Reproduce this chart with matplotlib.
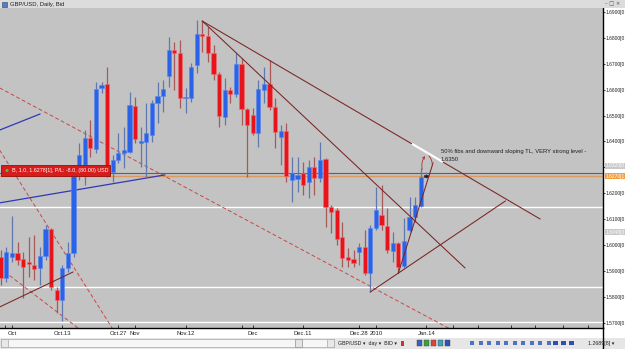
import matplotlib
matplotlib.use('Agg')
import matplotlib.pyplot as plt
import matplotlib.transforms as mtransforms
from matplotlib.patches import Rectangle, Circle

plt.rcParams['font.family'] = ['Liberation Sans', 'DejaVu Sans']

# GBP/USD daily candles, Sep 28 2009 .. Jan 14 2010
opens = [1.5954, 1.5873, 1.5954, 1.5970, 1.5946, 1.5935, 1.5923, 1.5912, 1.5958, 1.6062,
         1.5827, 1.5788, 1.5912, 1.5970, 1.6271, 1.6278, 1.6414, 1.6371, 1.6607, 1.6622,
         1.6282, 1.6329, 1.6356, 1.6359, 1.6537, 1.6394, 1.6398, 1.6425, 1.6549, 1.6576,
         1.6653, 1.6753, 1.6742, 1.6568, 1.6568, 1.6695, 1.6815, 1.6807, 1.6742, 1.6661,
         1.6495, 1.6599, 1.6583, 1.6699, 1.6525, 1.6502, 1.6433, 1.6599, 1.6622, 1.6533,
         1.6417, 1.6441, 1.6251, 1.6255, 1.6278, 1.6244, 1.6302, 1.6259, 1.6332, 1.6147,
         1.6136, 1.6031, 1.5954, 1.5946, 1.5973, 1.5993, 1.5892, 1.6066, 1.6116, 1.6074,
         1.5977, 1.6008, 1.5919, 1.6058, 1.6109, 1.6151, 1.6263]
highs = [1.5981, 1.5993, 1.6112, 1.6012, 1.5973, 1.6031, 1.6039, 1.5993, 1.6078, 1.6066,
         1.5838, 1.5923, 1.6012, 1.6290, 1.6394, 1.6444, 1.6483, 1.6630, 1.6630, 1.6688,
         1.6348, 1.6433, 1.6456, 1.6591, 1.6572, 1.6456, 1.6549, 1.6560, 1.6630, 1.6637,
         1.6803, 1.6784, 1.6792, 1.6607, 1.6703, 1.6869, 1.6865, 1.6842, 1.6773, 1.6668,
         1.6645, 1.6610, 1.6742, 1.6722, 1.6529, 1.6529, 1.6637, 1.6688, 1.6715, 1.6568,
         1.6464, 1.6471, 1.6340, 1.6340, 1.6321, 1.6329, 1.6340, 1.6398, 1.6336, 1.6155,
         1.6143, 1.6089, 1.5989, 1.5981, 1.6008, 1.6058, 1.6078, 1.6224, 1.6232, 1.6143,
         1.6051, 1.6012, 1.6105, 1.6186, 1.6186, 1.6298, 1.6282]
lows = [1.5846, 1.5858, 1.5935, 1.5923, 1.5796, 1.5877, 1.5865, 1.5846, 1.5942, 1.5827,
        1.5738, 1.5707, 1.5896, 1.5954, 1.6251, 1.6232, 1.6340, 1.6356, 1.6587, 1.6263,
        1.6244, 1.6317, 1.6298, 1.6356, 1.6394, 1.6302, 1.6263, 1.6398, 1.6471, 1.6514,
        1.6610, 1.6599, 1.6529, 1.6510, 1.6553, 1.6664, 1.6746, 1.6707, 1.6637, 1.6456,
        1.6464, 1.6549, 1.6572, 1.6464, 1.6263, 1.6425, 1.6379, 1.6549, 1.6522, 1.6375,
        1.6309, 1.6244, 1.6166, 1.6205, 1.6193, 1.6182, 1.6193, 1.6244, 1.6070, 1.6047,
        1.6000, 1.5915, 1.5915, 1.5915, 1.5923, 1.5885, 1.5819, 1.6058, 1.6058, 1.5970,
        1.5935, 1.5892, 1.5912, 1.6051, 1.6089, 1.6147, 1.6259]
closes = [1.5873, 1.5973, 1.5970, 1.5942, 1.5915, 1.5927, 1.5908, 1.5958, 1.6062, 1.5838,
          1.5788, 1.5912, 1.5970, 1.6278, 1.6348, 1.6414, 1.6375, 1.6603, 1.6618, 1.6271,
          1.6329, 1.6356, 1.6367, 1.6541, 1.6410, 1.6402, 1.6433, 1.6549, 1.6576, 1.6603,
          1.6753, 1.6742, 1.6568, 1.6572, 1.6688, 1.6815, 1.6807, 1.6742, 1.6661, 1.6498,
          1.6599, 1.6583, 1.6699, 1.6525, 1.6464, 1.6433, 1.6603, 1.6622, 1.6533, 1.6437,
          1.6441, 1.6267, 1.6278, 1.6271, 1.6232, 1.6302, 1.6259, 1.6329, 1.6147, 1.6128,
          1.6024, 1.5950, 1.5942, 1.5931, 1.5993, 1.5892, 1.6066, 1.6136, 1.6078, 1.5981,
          1.6008, 1.5915, 1.6016, 1.6109, 1.6155, 1.6263, 1.6270]

date_ticks = [2, 11, 21, 24, 33, 45, 54, 64, 67, 76]
date_labels = ['Oct', 'Oct.13', 'Oct.27', 'Nov', 'Nov.12', 'Dec', 'Dec.11', 'Dec.28', '2010', 'Jan.14']
extra_ticks = [0.8, 43.1, 80.8, 85.2, 91.1, 95.4, 100.4, 104.9]
price_ticks = [1.69, 1.68, 1.67, 1.66, 1.65, 1.64, 1.63, 1.62, 1.61, 1.60, 1.59, 1.58, 1.57]
hidden_tick = 1.63   # covered by a price box in the original

order_price = 1.6278
bid_price = 1.6266
white_levels = [1.6147, 1.5838, 1.5703]
# right-axis price boxes: (price, text, colour)
price_boxes = [(1.6307, '1.6320[0', '#c8c8c8'), (1.6266, '1.6270[1', '#f0a040'), (1.6050, '1.6048[0', '#c8c8c8')]

# drawn objects, (bar0, price0, bar1, price1)
trend_lines = [(36, 1.6865, 96.3, 1.6101), (36, 1.6865, 82.9, 1.5912),
               (66, 1.5819, 90.1, 1.6170), (71, 1.5892, 77.2, 1.6317),
               (-0.2, 1.5761, 12.9, 1.5896)]
dashed_lines = [(-0.2, 1.6607, 80.6, 1.5672), (-0.2, 1.6367, 19.9, 1.5680),
                (-0.2, 1.5912, 13.8, 1.5680)]
blue_lines = [(-0.2, 1.6444, 7.0, 1.6506), (-0.2, 1.6163, 29.3, 1.6271)]
white_seg = (73.6, 1.6389, 78.8, 1.6323)

W, H = 625, 349
fig = plt.figure(figsize=(W / 100, H / 100), dpi=100, facecolor='white')
pxT = mtransforms.Affine2D().scale(1 / W, -1 / H).translate(0, 1) + fig.transFigure

ax = fig.add_axes([0, 21 / H, 603 / W, 320 / H])
ax.set_facecolor('#c3c3c3')
ax.set_xlim(-0.125, 107.55)
ax.set_ylim(1.567992, 1.691544)

# levels
ax.axhline(order_price, color='#606060', lw=0.8, zorder=1)
ax.axhline(bid_price, color='#d89a60', lw=1.0, zorder=1)
for lv in white_levels:
    ax.axhline(lv, color='white', lw=1.0, zorder=1)

for x0, y0, x1, y1 in dashed_lines:
    ax.plot([x0, x1], [y0, y1], color='#c84848', lw=0.7, ls=(0, (4, 2.5)), zorder=2)
for x0, y0, x1, y1 in blue_lines:
    ax.plot([x0, x1], [y0, y1], color='#3038b8', lw=0.9, zorder=2)

# candles
idx = list(range(len(opens)))
up = [c >= o for o, c in zip(opens, closes)]
body_col = ['#2a62e8' if u else '#e8141c' for u in up]
edge_col = ['#5a86f0' if u else '#f07070' for u in up]
wick_col = ['#6078b0' if u else '#a85858' for u in up]
body_col[-1] = '#202020'
edge_col[-1] = '#202020'
ax.vlines(idx, lows, highs, colors=wick_col, lw=0.9, zorder=3)
bottoms = [min(o, c) for o, c in zip(opens, closes)]
heights = [max(abs(c - o), 0.00012) for o, c in zip(opens, closes)]
ax.bar(idx, heights, 0.72, bottom=bottoms, color=body_col, edgecolor=edge_col, lw=0.4, zorder=4)

for x0, y0, x1, y1 in trend_lines:
    ax.plot([x0, x1], [y0, y1], color='#7a2424', lw=0.75, zorder=5)
ax.plot([white_seg[0], white_seg[2]], [white_seg[1], white_seg[3]], color='white', lw=1.6, zorder=6)

# hand drawn arrow at the last bar
ax.annotate('', xy=(76.1, 1.6352), xytext=(75.4, 1.6282),
            arrowprops=dict(arrowstyle='->', color='#b03030', lw=0.6,
                            connectionstyle='arc3,rad=-0.3', mutation_scale=4), zorder=6)
ax.annotate('', xy=(77.0, 1.6296), xytext=(76.1, 1.6352),
            arrowprops=dict(arrowstyle='-', color='#b03030', lw=0.6,
                            connectionstyle='arc3,rad=-0.3'), zorder=6)

ax.text(78.6, 1.6362, '50% fibs and downward sloping TL, VERY strong level -',
        fontsize=4.2, va='center', ha='left', color='#202020', zorder=7)
ax.text(78.6, 1.6331, '1.6350', fontsize=4.2, va='center', ha='left', color='#202020', zorder=7)

# axes styling
for s in ['top', 'left']:
    ax.spines[s].set_visible(False)
ax.spines['right'].set_color('black')
ax.spines['bottom'].set_color('black')
ax.spines['right'].set_linewidth(1.0)
ax.spines['bottom'].set_linewidth(1.0)

ax.yaxis.tick_right()
ax.set_yticks(price_ticks)
ax.set_yticklabels(['' if p == hidden_tick else '%.4f[0' % p for p in price_ticks])
ax.tick_params(axis='y', direction='out', length=1.5, width=0.6, labelsize=3.5, pad=0.7, colors='#202020')

ax.set_xticks(date_ticks)
ax.set_xticklabels(date_labels)
ax.set_xticks(extra_ticks, minor=True)
ax.tick_params(axis='x', which='both', direction='in', length=2.5, width=0.6, labelsize=4.2, pad=2,
               colors='#202020')

btrans = mtransforms.blended_transform_factory(ax.transAxes, ax.transData)
for p, s, c in price_boxes:
    ax.text(1.0045, p, s, transform=btrans, fontsize=3.5, color='white', va='center', ha='left',
            clip_on=False, zorder=8, bbox=dict(boxstyle='square,pad=0.12', fc=c, ec='none'))

# order label
fig.add_artist(Rectangle((1, 165), 109, 11, transform=pxT, fc='#d81c1c', ec='#901010', lw=0.6, zorder=5))
fig.add_artist(Circle((7, 170.5), 1.6, transform=pxT, fc='#40c040', ec='none', zorder=6))
fig.text(12, 170.8, 'B, 1.0, 1.6278[1], P/L: -8.0, (80.00) USD', transform=pxT, fontsize=3.9,
         color='white', va='center', ha='left', zorder=7)

# window title bar
fig.add_artist(Rectangle((0, 0), W, 8, transform=pxT, fc='#dcdcdc', ec='none', zorder=5))
fig.add_artist(Rectangle((1.5, 1.5), 5, 5, transform=pxT, fc='#5080c0', ec='#304070', lw=0.4, zorder=6))
fig.text(10, 4.2, 'GBP/USD, Daily, Bid', transform=pxT, fontsize=4.2, color='#202020',
         va='center', ha='left', zorder=7)
fig.text(605, 3.8, '\u2013 \u25a1 \u00d7', transform=pxT, fontsize=3.8, color='#505050',
         va='center', ha='left', zorder=7, family='DejaVu Sans')

# bottom toolbar / scrollbar
fig.add_artist(Rectangle((0, 338), W, 11, transform=pxT, fc='#e6e6e6', ec='none', zorder=5))
fig.add_artist(Rectangle((1, 339), 333, 8, transform=pxT, fc='#f6f6f6', ec='#a8a8a8', lw=0.5, zorder=6))
fig.add_artist(Rectangle((1, 339), 7, 8, transform=pxT, fc='#e8e8e8', ec='#a8a8a8', lw=0.5, zorder=6))
fig.add_artist(Rectangle((295, 339), 7, 8, transform=pxT, fc='#e4e4e4', ec='#909090', lw=0.5, zorder=6))
fig.add_artist(Rectangle((327, 339), 7, 8, transform=pxT, fc='#e8e8e8', ec='#a8a8a8', lw=0.5, zorder=6))
fig.add_artist(plt.Line2D([603, 603], [328, 349], transform=pxT, color='black', lw=1.0, zorder=6))
fig.text(338, 343.5, 'GBP/USD \u25be  day \u25be  BID \u25be', transform=pxT, fontsize=3.8,
         color='#202020', va='center', ha='left', zorder=7)
fig.add_artist(Rectangle((401, 340.5), 2.5, 5, transform=pxT, fc='#d03030', ec='none', zorder=6))
icon_cols = ['#4060c0', '#40a040', '#e04040', '#40a0c0', '#3050c0']
for i, c in enumerate(icon_cols):
    fig.add_artist(Rectangle((417 + i * 7, 340), 5, 6, transform=pxT, fc=c, ec='#404040', lw=0.3, zorder=6))
for i in range(10):
    fig.add_artist(Rectangle((470 + i * 8.5, 341), 4, 4, transform=pxT, fc='#5070c0', ec='none', zorder=6))
for i in range(3):
    fig.add_artist(Rectangle((553 + i * 8, 341), 5, 4, transform=pxT, fc='#3050b0', ec='none', zorder=6))
fig.text(588, 343.5, '1.2689[8] \u25be', transform=pxT, fontsize=3.8, color='#202020',
         va='center', ha='left', zorder=7)

fig.savefig('out.png', dpi=100, facecolor='white')
